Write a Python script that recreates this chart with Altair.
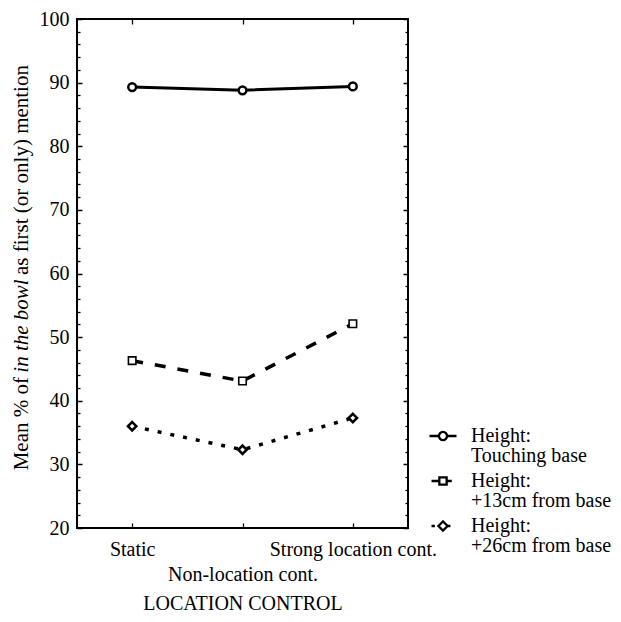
import altair as alt
import pandas as pd

categories = ["Static", "Non-location cont.", "Strong location cont."]
series = ["Touching base", "+13cm from base", "+26cm from base"]
touching_base = [89.3, 88.8, 89.4]
plus_13cm = [46.3, 43.1, 52.1]
plus_26cm = [36.0, 32.3, 37.3]
y_tick_values = list(range(20, 101, 2))

records = []
for name, vals in zip(series, [touching_base, plus_13cm, plus_26cm]):
    for cat, v in zip(categories, vals):
        records.append({"condition": cat, "height": name, "pct": v})
df = pd.DataFrame(records)

FONT = "Liberation Serif"
FS = 20
TFS = 21
W, H = 331, 509

xscale = alt.Scale(domain=categories, padding=0.5)
yscale = alt.Scale(domain=[20, 100], nice=False, zero=False)
minor_dash = {"condition": {"test": "datum.value % 10 != 0", "value": [3, 2]}, "value": [6, 0]}

x_main = alt.X(
    "condition:N", scale=xscale,
    axis=alt.Axis(
        orient="bottom", title="LOCATION CONTROL", titleFont=FONT, titleFontSize=FS,
        titleFontWeight="normal", titleColor="black", titlePadding=9,
        labelAngle=0, labelFont=FONT, labelFontSize=FS, labelColor="black",
        labelBaseline="top", labelOverlap=False, labelBound=False, labelLimit=0,
        labelPadding={"condition": {"test": "datum.value == 'Non-location cont.'", "value": 36}, "value": 11},
        domain=False, ticks=True, tickSize=5, offset=-5, tickColor="black", tickWidth=1.3,
        grid=False,
    ),
)
y_main = alt.Y(
    "pct:Q", scale=yscale,
    axis=alt.Axis(
        orient="left", title=None, values=y_tick_values,
        labelExpr="datum.value % 10 == 0 ? datum.label : ''",
        labelFont=FONT, labelFontSize=FS, labelColor="black", labelPadding=8,
        domain=False, tickSize=5, offset=-5, tickColor="black", tickWidth=1.3,
        tickDash=minor_dash, tickDashOffset=3, grid=False,
    ),
)

base = alt.Chart(df).encode(x=x_main, y=y_main)

line_touch = base.transform_filter(alt.datum.height == series[0]).mark_line(
    color="black", strokeWidth=3)
line_13 = base.transform_filter(alt.datum.height == series[1]).mark_line(
    color="black", strokeWidth=3.5, strokeDash=[11, 12])
line_26 = base.transform_filter(alt.datum.height == series[2]).mark_line(
    color="black", strokeWidth=3.5, strokeDash=[4, 9])

pt_touch = base.transform_filter(alt.datum.height == series[0]).mark_point(
    shape="circle", size=60, filled=True, fill="white", stroke="black", strokeWidth=2.5, opacity=1)
pt_13 = base.transform_filter(alt.datum.height == series[1]).mark_point(
    shape="square", size=56, filled=True, fill="white", stroke="black", strokeWidth=1.6, opacity=1)
pt_26 = base.transform_filter(alt.datum.height == series[2]).mark_point(
    shape="diamond", size=70, filled=True, fill="white", stroke="black", strokeWidth=2.5, opacity=1)

k = 0.166
circle_path = (
    "M-1,0L-0.3,0M0.3,0L1,0"
    f"M0.3,0C0.3,{k},{k},0.3,0,0.3C-{k},0.3,-0.3,{k},-0.3,0"
    f"C-0.3,-{k},-{k},-0.3,0,-0.3C{k},-0.3,0.3,-{k},0.3,0Z"
)
square_path = "M-0.85,0L-0.27,0M0.27,0L0.65,0M-0.27,-0.27L0.27,-0.27L0.27,0.27L-0.27,0.27Z"
diamond_path = "M-0.85,0L-0.6,0M-0.34,0L0,-0.34L0.34,0L0,0.34ZM0.34,0L0.55,0"

legend_layer = alt.Chart(df).transform_filter("datum.pct < 0").mark_point(
    filled=False, color="black", strokeWidth=2.3, size=729, opacity=1
).encode(
    shape=alt.Shape(
        "height:N",
        scale=alt.Scale(domain=series, range=[circle_path, square_path, diamond_path]),
        legend=alt.Legend(
            title=None, orient="none", legendX=351, legendY=402,
            labelFont=FONT, labelFontSize=FS, labelColor="black", labelLimit=0,
            labelExpr="['Height:', datum.label]", labelOffset=13,
            symbolSize=729, symbolStrokeWidth=2.3, symbolFillColor="white",
            symbolStrokeColor="black", symbolOpacity=1, rowPadding=-5,
        ),
    )
)

one = pd.DataFrame({"k": [0]})
title_x = -55
t1 = alt.Chart(one).mark_text(text="Mean % of", angle=270, align="right", baseline="middle",
                              font=FONT, fontSize=TFS, color="black").encode(
    x=alt.value(title_x), y=alt.value(358))
t2 = alt.Chart(one).mark_text(text="in the bowl", angle=270, align="center", baseline="middle",
                              font=FONT, fontSize=TFS, fontStyle="italic", color="black").encode(
    x=alt.value(title_x), y=alt.value(307))
t3 = alt.Chart(one).mark_text(text="as first (or only) mention", angle=270, align="left",
                              baseline="middle", font=FONT, fontSize=TFS, color="black").encode(
    x=alt.value(title_x), y=alt.value(256))

main = alt.layer(line_touch, line_13, line_26, pt_touch, pt_13, pt_26, legend_layer, t1, t2, t3)

axis_layer = alt.Chart(df).mark_point(opacity=0).encode(
    x=alt.X("condition:N", scale=xscale,
            axis=alt.Axis(orient="top", title=None, labels=False, domain=False,
                          tickSize=5, offset=-5, tickColor="black", tickWidth=1.3, grid=False)),
    y=alt.Y("pct:Q", scale=yscale,
            axis=alt.Axis(orient="right", title=None, labels=False, domain=False,
                          values=y_tick_values, tickSize=5, offset=-5, tickColor="black",
                          tickWidth=1.3, tickDash=minor_dash, tickDashOffset=3, grid=False)),
)

chart = alt.layer(main, axis_layer).resolve_scale(x="independent", y="independent").properties(
    width=W, height=H,
    autosize=alt.AutoSizeParams(type="none"),
    padding={"left": 69, "top": 11, "right": 205, "bottom": 86},
).configure(
    background="white", style={"guide-label": {"lineHeight": 20}}
).configure_view(stroke="black", strokeWidth=2)

chart.save("out.html", embed_options={"renderer": "svg", "actions": False})
